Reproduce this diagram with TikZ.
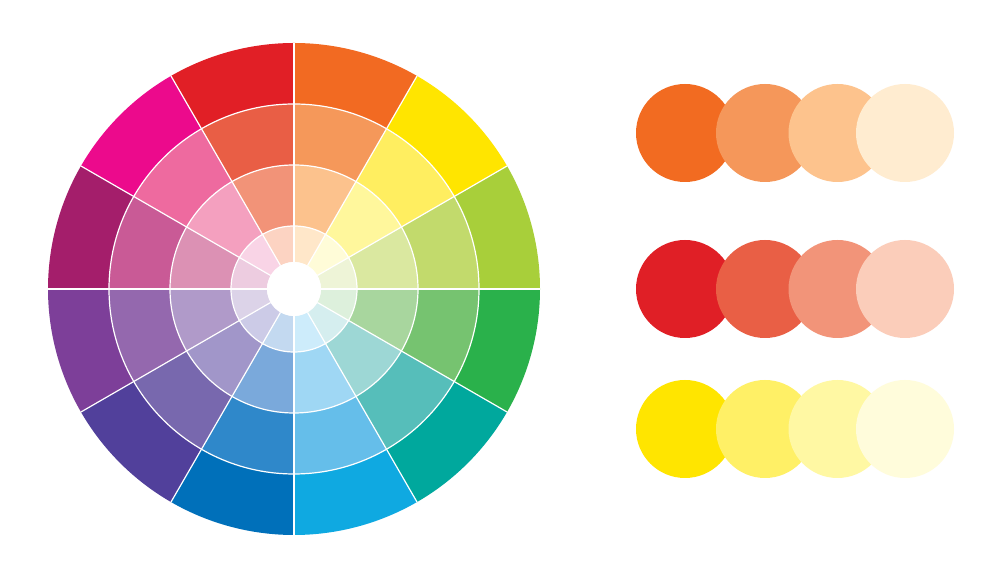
\documentclass[tikz,border=0pt]{standalone}
\usetikzlibrary{calc}
% outer ring (r 185-246)
\definecolor{a0}{HTML}{E11F26}\definecolor{a1}{HTML}{EC0A8C}\definecolor{a2}{HTML}{A41E6B}
\definecolor{a3}{HTML}{7D3F99}\definecolor{a4}{HTML}{51409B}\definecolor{a5}{HTML}{0070BA}
\definecolor{a6}{HTML}{0FA9E1}\definecolor{a7}{HTML}{00A89D}\definecolor{a8}{HTML}{2AB14B}
\definecolor{a9}{HTML}{A8CF3A}\definecolor{a10}{HTML}{FFE500}\definecolor{a11}{HTML}{F26A22}
% ring 3 (124-185)
\definecolor{b0}{HTML}{E95E45}\definecolor{b1}{HTML}{EE6A9F}\definecolor{b2}{HTML}{C95A96}
\definecolor{b3}{HTML}{9468AE}\definecolor{b4}{HTML}{7868AE}\definecolor{b5}{HTML}{2F88CA}
\definecolor{b6}{HTML}{65BEEA}\definecolor{b7}{HTML}{56BEBA}\definecolor{b8}{HTML}{76C370}
\definecolor{b9}{HTML}{C2DA6C}\definecolor{b10}{HTML}{FFEE60}\definecolor{b11}{HTML}{F5985A}
% ring 2 (63-124)
\definecolor{c0}{HTML}{F29378}\definecolor{c1}{HTML}{F4A0BF}\definecolor{c2}{HTML}{DC91B4}
\definecolor{c3}{HTML}{B09AC9}\definecolor{c4}{HTML}{A196C9}\definecolor{c5}{HTML}{7AA9DB}
\definecolor{c6}{HTML}{9FD7F4}\definecolor{c7}{HTML}{9DD7D5}\definecolor{c8}{HTML}{A8D69E}
\definecolor{c9}{HTML}{DAE8A0}\definecolor{c10}{HTML}{FFF79C}\definecolor{c11}{HTML}{FCC28D}
% ring 1 (27-63)
\definecolor{d0}{HTML}{FCD3C2}\definecolor{d1}{HTML}{F9D4E6}\definecolor{d2}{HTML}{EDCCE0}
\definecolor{d3}{HTML}{DCD3E8}\definecolor{d4}{HTML}{CCCBE7}\definecolor{d5}{HTML}{C3D9F0}
\definecolor{d6}{HTML}{CDECFB}\definecolor{d7}{HTML}{D5EEEF}\definecolor{d8}{HTML}{DDF0DC}
\definecolor{d9}{HTML}{EEF4D7}\definecolor{d10}{HTML}{FFFCD8}\definecolor{d11}{HTML}{FFE7C9}
% swatches
\definecolor{p11}{HTML}{F26B21}\definecolor{p12}{HTML}{F5975A}\definecolor{p13}{HTML}{FDC38D}\definecolor{p14}{HTML}{FFECD0}
\definecolor{p21}{HTML}{E01F26}\definecolor{p22}{HTML}{E95F45}\definecolor{p23}{HTML}{F29479}\definecolor{p24}{HTML}{FBCDBA}
\definecolor{p31}{HTML}{FFE500}\definecolor{p32}{HTML}{FFF066}\definecolor{p33}{HTML}{FFF8A3}\definecolor{p34}{HTML}{FFFCDB}
\tikzset{
  sepline/.style={draw=white, line width=1.2pt},
  swatch/.style={circle, minimum size=98pt, inner sep=0pt, outer sep=0pt}
}
\begin{document}
\begin{tikzpicture}[x=1pt,y=1pt]
\useasboundingbox (0,0) rectangle (1007,561);
\fill[white] (0,0) rectangle (1007,561);
\coordinate (O) at (294,272);
% wheel sectors
\foreach \ring/\ri/\ro in {a/185/246, b/124/185, c/63/124, d/27/63}{
  \foreach \k in {0,...,11}{
    \pgfmathsetmacro{\sa}{90+30*\k}
    \pgfmathsetmacro{\ea}{120+30*\k}
    \fill[\ring\k] ($(O)+(\sa:\ro)$) arc[start angle=\sa, end angle=\ea, radius=\ro]
      -- ($(O)+(\ea:\ri)$) arc[start angle=\ea, end angle=\sa, radius=\ri] -- cycle;
  }
}
% separators
\foreach \r in {63,124,185}{ \draw[sepline] (O) circle[radius=\r]; }
\foreach \a in {0,30,...,330}{ \draw[sepline] ($(O)+(\a:27)$) -- ($(O)+(\a:246)$); }
\fill[white] (O) circle[radius=27];
% swatches
\foreach \row/\y in {1/428, 2/272, 3/132}{
  \node[swatch, fill=p\row1] (s\row1) at (685,\y) {};
  \node[swatch, fill=p\row2] (s\row2) at (765,\y) {};
  \node[swatch, fill=p\row3] (s\row3) at (837.5,\y) {};
  \node[swatch, fill=p\row4] (s\row4) at (905,\y) {};
}
\end{tikzpicture}
\end{document}
